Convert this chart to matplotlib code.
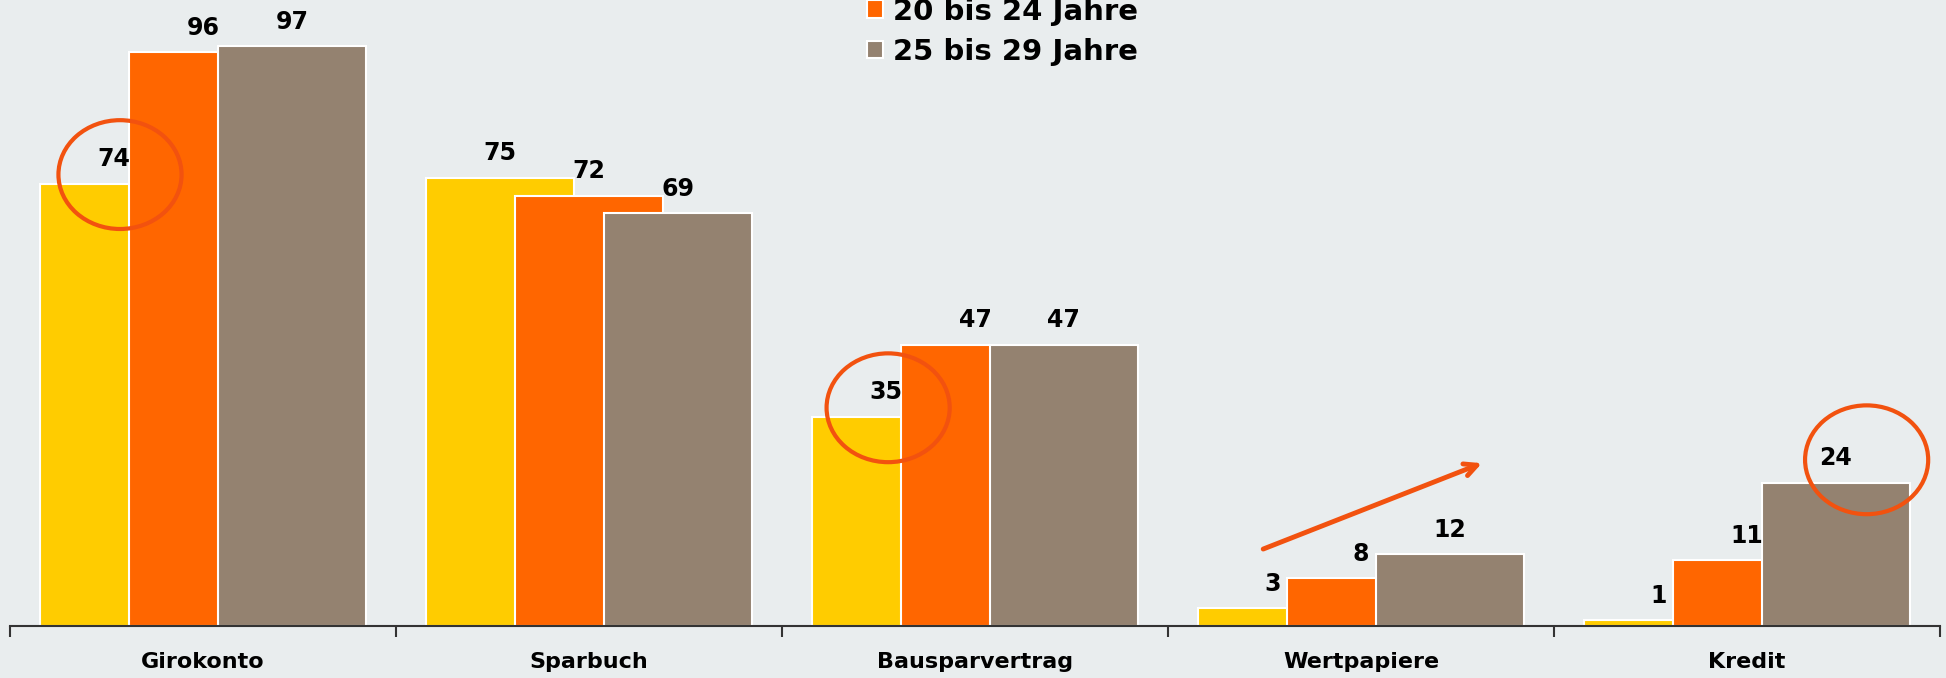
import numpy as np
import matplotlib
matplotlib.use("Agg")
import matplotlib.pyplot as plt
from matplotlib.patches import Ellipse

categories = ["Girokonto", "Sparbuch", "Bausparvertrag", "Wertpapiere", "Kredit"]
series_names = ["14 bis 19 Jahre", "20 bis 24 Jahre", "25 bis 29 Jahre"]
vals_14_19 = [74, 75, 35, 3, 1]
vals_20_24 = [96, 72, 47, 8, 11]
vals_25_29 = [97, 69, 47, 12, 24]

colors = ["#FFCC00", "#FF6600", "#948270"]
bg = "#E9EDEE"
accent = "#F2520F"

fig = plt.figure(figsize=(19.46, 6.78), dpi=100, facecolor=bg)
ax = fig.add_axes([0.00514, 0.0767, 0.99176, 0.9233])
ax.set_facecolor(bg)

x = np.arange(len(categories))
width = 0.383
step = 0.23
all_vals = [vals_14_19, vals_20_24, vals_25_29]

bars = []
for i, vals in enumerate(all_vals):
    pos = x + (i - 1) * step
    b = ax.bar(pos, vals, width=width, color=colors[i], edgecolor="white",
               linewidth=1.5, label=series_names[i])
    bars.append(b)
    for xp, v in zip(pos, vals):
        ax.annotate(f"{v}", (xp, v), xytext=(0, 9), textcoords="offset points",
                    ha="center", va="bottom", fontsize=17, fontweight="bold",
                    color="black")

# highlight circles (category, series, dx, dy)
highlights = [(0, 0, 0.015, 1.5), (2, 0, 0.005, 1.5), (4, 2, 0.08, 3.8)]
for c, s, dx, dy in highlights:
    cx = x[c] + (s - 1) * step + dx
    cy = all_vals[s][c] + dy
    ax.add_patch(Ellipse((cx, cy), 0.319, 18.2, fill=False, edgecolor=accent,
                         linewidth=3, zorder=5))

# trend arrow over Wertpapiere
ax.annotate("", xy=(x[3] + 0.32, 27.4), xytext=(x[3] - 0.26, 12.7),
            arrowprops=dict(arrowstyle="->,head_length=0.9,head_width=0.45",
                            color=accent, lw=3.5), zorder=5)

ax.set_xlim(-0.5, len(categories) - 0.5)
ax.set_ylim(0, 104.7)

for side in ["top", "right", "left"]:
    ax.spines[side].set_visible(False)
ax.spines["bottom"].set_color("#333333")
ax.spines["bottom"].set_linewidth(1.5)

ax.set_yticks([])
ax.set_xticks(np.arange(len(categories) + 1) - 0.5)
ax.set_xticklabels([])
ax.tick_params(axis="x", which="major", length=8, width=1.5, color="#333333", direction="out")
ax.set_xticks(x, minor=True)
ax.set_xticklabels(categories, minor=True, fontsize=16, fontweight="bold")
ax.tick_params(axis="x", which="minor", length=0, pad=19)

leg = fig.legend(handles=bars, labels=series_names, loc="lower left",
                 bbox_to_anchor=(867 / 1946, 0.903), frameon=False,
                 prop=dict(size=21, weight="bold"), handlelength=0.55,
                 handleheight=0.55, handletextpad=0.35, labelspacing=0.42,
                 borderpad=0, borderaxespad=0)

plt.savefig("out.png", dpi=100, facecolor=bg)
